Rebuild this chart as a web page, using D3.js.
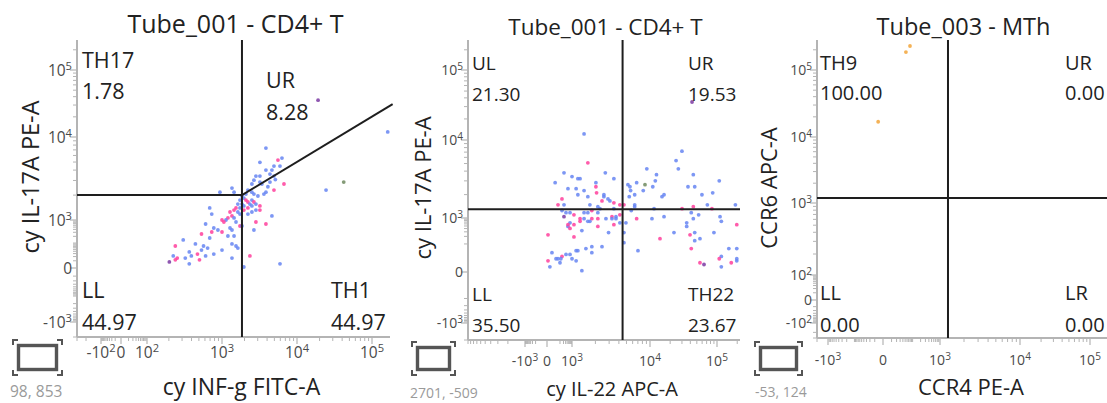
<!DOCTYPE html>
<html>
<head>
<meta charset="utf-8">
<script src="https://cdn.jsdelivr.net/npm/d3@7"></script>
<style>
  body { margin: 0; background: #fff; }
  svg { display: block; font-family: "Open Sans", sans-serif; }
</style>
</head>
<body>
<div id="chart"></div>
<script>
'use strict'

////////////////////////////////////
//////////////// data //////////////
////////////////////////////////////

const panelTitles = ['Tube_001 - CD4+ T', 'Tube_001 - CD4+ T', 'Tube_003 - MTh']
const xTitles = ['cy INF-g FITC-A', 'cy IL-22 APC-A', 'CCR4 PE-A']
const yTitles = ['cy IL-17A PE-A', 'cy IL-17A PE-A', 'CCR6 APC-A']
const cursorReadouts = ['98, 853', '2701, -509', '-53, 124']

// axis ticks (value, label with ^ for exponent)
const p1XTicks = [-100, 0, 100, 1e3, 1e4, 1e5]
const p1XTickLabels = ['-10^2', '0', '10^2', '10^3', '10^4', '10^5']
const p1YTicks = [-1e3, 0, 1e3, 1e4, 1e5]
const p1YTickLabels = ['-10^3', '0', '10^3', '10^4', '10^5']
const p2XTicks = [-1e3, 0, 1e3, 1e4, 1e5]
const p2XTickLabels = ['-10^3', '0', '10^3', '10^4', '10^5']
const p2YTicks = [-1e3, 0, 1e3, 1e4, 1e5]
const p2YTickLabels = ['-10^3', '0', '10^3', '10^4', '10^5']
const p3XTicks = [-1e3, 0, 1e3, 1e4, 1e5]
const p3XTickLabels = ['-10^3', '0', '10^3', '10^4', '10^5']
const p3YTicks = [-100, 0, 100, 1e3, 1e4, 1e5]
const p3YTickLabels = ['-10^2', '0', '10^2', '10^3', '10^4', '10^5']

// quadrant gates: names + percentages (UL, UR, LL, LR)
const p1GateNames = ['TH17', 'UR', 'LL', 'TH1']
const p1GatePct = ['1.78', '8.28', '44.97', '44.97']
const p2GateNames = ['UL', 'UR', 'LL', 'TH22']
const p2GatePct = ['21.30', '19.53', '35.50', '23.67']
const p3GateNames = ['TH9', 'UR', 'LL', 'LR']
const p3GatePct = ['100.00', '0.00', '0.00', '0.00']

// gate cross points (x, y) and the tilted arm of panel 1
const p1GateCross = [1850, 2000]
const p1GateDiagEnd = [190000, 31000]
const p2GateCross = [4460, 1300]
const p3GateCross = [1260, 1190]

// events [x, y, population]  b blue, p pink, v purple, o olive, y orange
const p1Events = [
  [3860,7360,'b'],[5580,5280,'p'],[6310,5580,'b'],[3210,4960,'b'],[4940,4470,'b'],[5940,4470,'b'],
  [3860,4000,'b'],[4640,4000,'b'],[4370,3580,'b'],[2840,3390,'b'],[3210,3390,'b'],[4940,3390,'b'],
  [5150,3080,'b'],[2670,3030,'b'],[2510,2720,'b'],[3210,2870,'b'],[3410,2720,'b'],[6710,2720,'p'],
  [4370,2870,'b'],[4100,2520,'b'],[4940,2300,'p'],[24400,2300,'b'],[42000,2870,'o'],[940,2170,'b'],
  [1360,2430,'b'],[1450,2170,'b'],[2220,2300,'b'],[2090,2060,'b'],[2510,2170,'b'],[2670,2060,'b'],
  [3860,2170,'b'],[3630,2060,'b'],[3020,1950,'b'],[1850,1950,'b'],[1960,1840,'b'],[1740,1740,'b'],
  [2090,1740,'p'],[2220,1650,'p'],[2510,1740,'b'],[2670,1650,'p'],[2360,1560,'b'],[2840,1560,'b'],
  [1850,1560,'b'],[1630,1560,'b'],[1960,1480,'b'],[1540,1400,'p'],[1740,1400,'b'],[2220,1400,'p'],
  [2510,1480,'b'],[3210,1480,'p'],[3210,1320,'p'],[2840,1320,'b'],[1960,1320,'p'],[1450,1320,'p'],
  [1280,1250,'p'],[1630,1250,'b'],[1740,1180,'b'],[2220,1180,'b'],[2510,1250,'b'],[1360,1120,'p'],
  [1450,1060,'b'],[1200,1060,'p'],[1130,1000,'b'],[1000,1000,'p'],[1060,823,'p'],[1540,823,'b'],
  [1740,557,'p'],[1850,557,'b'],[2840,823,'p'],[3860,677,'p'],[4640,1120,'b'],[2670,376,'b'],
  [736,1180,'b'],[692,1400,'b'],[612,677,'b'],[782,458,'b'],[885,376,'b'],[1000,309,'p'],
  [1280,458,'b'],[1360,376,'b'],[541,253,'p'],[736,309,'p'],[692,169,'b'],[1200,207,'b'],
  [1450,207,'b'],[1360,91,'b'],[1540,73,'b'],[1630,58,'b'],[1000,46,'b'],[782,28,'b'],
  [575,73,'b'],[541,46,'b'],[650,58,'b'],[450,91,'b'],[311,138,'b'],[244,73,'p'],
  [374,37,'b'],[398,22,'b'],[479,28,'p'],[612,22,'b'],[509,12,'p'],[331,16,'b'],
  [259,16,'p'],[229,22,'b'],[244,12,'p'],[203,8,'v'],[374,5,'b'],[1360,16,'b'],
  [2360,22,'p'],[5940,5,'b'],[1960,1,'b'],[19100,35500,'v'],[163000,11900,'b']
]

const p2Events = [
  [30000,7200,'b'],[24500,5450,'b'],[26500,4280,'b'],[1600,5100,'p'],[220,3800,'b'],[1000,3400,'b'],
  [1190,3200,'b'],[1270,3200,'b'],[35,2840,'b'],[470,2380,'b'],[1130,2380,'b'],[1430,2250,'b'],
  [1190,1990,'b'],[1600,1880,'b'],[2030,2840,'b'],[2030,2520,'p'],[2070,2110,'p'],[2680,3800,'b'],
  [3450,3200,'b'],[2570,1990,'b'],[2570,1880,'b'],[2900,1760,'b'],[3070,1660,'b'],[2430,1660,'p'],
  [149,1760,'p'],[66,1480,'p'],[220,1480,'b'],[1700,1480,'b'],[2150,1400,'b'],[2290,1320,'b'],
  [3450,1570,'p'],[4120,1480,'p'],[4640,1480,'p'],[3450,1320,'b'],[149,1250,'b'],[323,1170,'b'],
  [690,1170,'b'],[1060,1100,'p'],[220,1040,'v'],[1430,1170,'b'],[1600,1170,'b'],[1800,1250,'p'],
  [2150,1170,'b'],[3260,1040,'p'],[3670,1040,'b'],[3670,940,'b'],[3260,940,'b'],[4120,1100,'p'],
  [2730,940,'b'],[2150,940,'p'],[1800,940,'p'],[1700,750,'b'],[1270,940,'p'],[1270,750,'p'],
  [1430,940,'b'],[1600,750,'b'],[690,660,'b'],[473,480,'b'],[690,405,'p'],[1060,560,'p'],
  [473,560,'p'],[1340,335,'b'],[2150,480,'p'],[3450,560,'p'],[4120,660,'b'],[4920,660,'b'],
  [4640,280,'b'],[4640,113,'b'],[2,230,'p'],[1060,190,'p'],[2950,280,'b'],[2430,77,'b'],
  [1800,77,'b'],[1510,64,'b'],[1800,42,'b'],[1190,52,'b'],[1130,52,'b'],[690,35,'b'],
  [323,35,'b'],[149,28,'p'],[120,21,'b'],[66,21,'b'],[43,21,'b'],[15,42,'b'],
  [2,16,'p'],[7,5.5,'b'],[1000,21,'b'],[1130,16,'b'],[100,12,'b'],[1340,1.2,'b'],
  [9100,4280,'b'],[12500,3600,'b'],[12000,3000,'b'],[11000,2520,'b'],[8630,2680,'o'],[6750,2840,'b'],
  [5220,2680,'b'],[5540,2520,'b'],[5650,2250,'b'],[6370,1990,'b'],[5430,1880,'b'],[8200,2250,'b'],
  [16200,1990,'b'],[15100,1880,'b'],[6370,1480,'b'],[6370,1400,'b'],[5760,1250,'b'],[11500,1320,'b'],
  [6750,940,'p'],[10700,940,'b'],[16200,1040,'b'],[30100,1320,'p'],[44300,3600,'b'],[36900,2520,'b'],
  [46500,2520,'b'],[59600,1990,'b'],[86300,2110,'b'],[71800,1480,'b'],[108000,3000,'b'],[44300,1400,'p'],
  [84000,1320,'p'],[41300,1170,'b'],[53200,1100,'b'],[44300,940,'b'],[35300,660,'b'],[35300,480,'b'],
  [22800,280,'b'],[14100,162,'p'],[39600,230,'p'],[46500,280,'b'],[55700,162,'b'],[46500,135,'b'],
  [41300,64,'p'],[90000,280,'b'],[111000,1040,'b'],[116000,750,'b'],[188000,1480,'b'],[197000,560,'p'],
  [7020,52,'b'],[150000,64,'b'],[197000,64,'b'],[116000,28,'b'],[108000,21,'p'],[197000,21,'b'],
  [197000,16,'b'],[55700,12,'p'],[64000,9,'v'],[163000,12,'p'],[116000,5.5,'b'],[1430,12200,'b'],
  [42400,34900,'v']
]

const p3Events = [[54,185000,'y'],[79,228000,'y'],[-5,16900,'y']]

////////////////////////////////////
//////////////// layout ////////////
////////////////////////////////////

const W = 1107, H = 403

const colors = { b: '#6685f2', p: '#ff3f9c', v: '#7b3aa3', o: '#6f8a5f', y: '#f2a53a' }

// scale calibration (value -> pixel anchors) and text placement, per panel
const layout = [
  {
    left: 77, right: 390, top: 40, bottom: 337,
    xDom: [-300, -100, 0, 100, 1e3, 1e4, 1e5, 175000], xRng: [77, 101, 121, 147, 222, 297, 372, 390],
    yDom: [-2000, -1e3, 0, 1e3, 1e4, 1e5, 280000], yRng: [337, 322, 268, 220, 137, 70, 40],
    minMinor: 10,
    title: [235.5, 33, 25], xTitle: [241.5, 395, 23], yTitle: [39, 177, 23.5],
    tickSize: 15.5, xTickBase: 358,
    quad: [[82, 68, 99], [266, 88, 120], [82, 298, 330], [331, 298, 330]], quadSize: 21.5,
    icon: [13, 340, 62, 375], readout: [10, 397, 15.5]
  },
  {
    left: 468, right: 740, top: 40, bottom: 340,
    xDom: [-1e4, -1e3, 0, 1e3, 1e4, 1e5, 220000], xRng: [468, 525, 547, 572, 650, 717, 740],
    yDom: [-2000, -1e3, 0, 1e3, 1e4, 1e5, 280000], yRng: [340, 323, 272, 218, 140, 70, 40],
    minMinor: 100,
    title: [605.5, 35, 22.5], xTitle: [612, 396, 20], yTitle: [431, 188, 22],
    tickSize: 14, xTickBase: 366,
    quad: [[472, 70, 101], [688, 70, 101], [472, 301, 332], [688, 301, 332]], quadSize: 19,
    icon: [412, 342, 455, 375], readout: [410, 398, 14]
  },
  {
    left: 817, right: 1107, top: 40, bottom: 338,
    xDom: [-2000, -1e3, 0, 1e3, 1e4, 1e5, 175000], xRng: [817, 828, 883, 940, 1020, 1090, 1107],
    yDom: [-300, -100, 0, 100, 1e3, 1e4, 1e5, 280000], yRng: [338, 323, 300, 275, 203, 137, 70, 40],
    minMinor: 10,
    title: [963.5, 35, 23.5], xTitle: [971, 395, 22], yTitle: [777, 188, 22],
    tickSize: 14, xTickBase: 365,
    quad: [[820, 70, 100], [1065, 70, 100], [820, 300, 332], [1065, 300, 332]], quadSize: 20,
    icon: [755, 342, 802, 375], readout: [755, 397, 14]
  }
]

const panels = [
  { xTicks: p1XTicks, xLabels: p1XTickLabels, yTicks: p1YTicks, yLabels: p1YTickLabels,
    names: p1GateNames, pct: p1GatePct, cross: p1GateCross, diag: p1GateDiagEnd, events: p1Events },
  { xTicks: p2XTicks, xLabels: p2XTickLabels, yTicks: p2YTicks, yLabels: p2YTickLabels,
    names: p2GateNames, pct: p2GatePct, cross: p2GateCross, diag: null, events: p2Events },
  { xTicks: p3XTicks, xLabels: p3XTickLabels, yTicks: p3YTicks, yLabels: p3YTickLabels,
    names: p3GateNames, pct: p3GatePct, cross: p3GateCross, diag: null, events: p3Events }
]

////////////////////////////////////
//////////////// draw //////////////
////////////////////////////////////

const svg = d3.select('#chart').append('svg')
  .attr('width', W).attr('height', H)

// minor ticks: m * 10^k on both sides of zero, inside the axis domain
function minorTicks(dom, majors, minAbs) {
  const lo = d3.min(dom), hi = d3.max(dom), out = []
  for (let k = 1; k <= 5; k++) {
    for (let m = 1; m <= 9; m++) {
      const v = m * Math.pow(10, k)
      if (v < minAbs) continue
      if (v <= hi && !majors.includes(v)) out.push(v)
      if (-v >= lo && !majors.includes(-v)) out.push(-v)
    }
  }
  return out
}

function writeLabel(text, lbl) {
  const parts = lbl.split('^')
  text.append('tspan').text(parts[0])
  if (parts[1]) text.append('tspan').attr('dy', '-0.5em').attr('font-size', '0.72em').text(parts[1])
}

panels.forEach((pn, i) => {
  const L = layout[i]
  const x = d3.scaleSymlog().constant(10).domain(L.xDom).range(L.xRng)
  const y = d3.scaleSymlog().constant(10).domain(L.yDom).range(L.yRng)
  const g = svg.append('g')

  // title
  g.append('text')
    .attr('x', L.title[0]).attr('y', L.title[1])
    .attr('text-anchor', 'middle').attr('font-size', L.title[2]).attr('fill', '#222')
    .text(panelTitles[i])

  // axes lines
  const axis = g.append('g').attr('stroke', '#b4b4b4')
  axis.append('line').attr('x1', L.left).attr('x2', L.left).attr('y1', L.top).attr('y2', L.bottom).attr('stroke-width', 2)
  axis.append('line').attr('x1', L.left).attr('x2', L.right).attr('y1', L.bottom).attr('y2', L.bottom).attr('stroke-width', 2)

  // ticks
  const xMinor = minorTicks(L.xDom, pn.xTicks, L.minMinor)
  const yMinor = minorTicks(L.yDom, pn.yTicks, L.minMinor)
  axis.selectAll('.xminor').data(xMinor).join('line')
    .attr('x1', d => x(d)).attr('x2', d => x(d)).attr('y1', L.bottom).attr('y2', L.bottom + 4).attr('stroke-width', 1)
  axis.selectAll('.xmajor').data(pn.xTicks).join('line')
    .attr('x1', d => x(d)).attr('x2', d => x(d)).attr('y1', L.bottom).attr('y2', L.bottom + 7).attr('stroke-width', 1.2)
  axis.selectAll('.yminor').data(yMinor).join('line')
    .attr('y1', d => y(d)).attr('y2', d => y(d)).attr('x1', L.left).attr('x2', L.left - 4).attr('stroke-width', 1)
  axis.selectAll('.ymajor').data(pn.yTicks).join('line')
    .attr('y1', d => y(d)).attr('y2', d => y(d)).attr('x1', L.left).attr('x2', L.left - 7).attr('stroke-width', 1.2)

  // tick labels
  pn.xTicks.forEach((v, j) => {
    const t = g.append('text')
      .attr('x', x(v)).attr('y', L.xTickBase)
      .attr('text-anchor', 'middle').attr('font-size', L.tickSize).attr('fill', '#4a4a4a')
    writeLabel(t, pn.xLabels[j])
  })
  pn.yTicks.forEach((v, j) => {
    const t = g.append('text')
      .attr('x', L.left - 5).attr('y', y(v)).attr('dy', '0.36em')
      .attr('text-anchor', 'end').attr('font-size', L.tickSize).attr('fill', '#4a4a4a')
    writeLabel(t, pn.yLabels[j])
  })

  // axis titles
  g.append('text')
    .attr('x', L.xTitle[0]).attr('y', L.xTitle[1])
    .attr('text-anchor', 'middle').attr('font-size', L.xTitle[2]).attr('fill', '#222')
    .text(xTitles[i])
  g.append('text')
    .attr('transform', `translate(${L.yTitle[0]},${L.yTitle[1]}) rotate(-90)`)
    .attr('text-anchor', 'middle').attr('font-size', L.yTitle[2]).attr('fill', '#222')
    .text(yTitles[i])

  // events
  g.append('g').selectAll('circle').data(pn.events).join('circle')
    .attr('cx', d => x(d[0])).attr('cy', d => y(d[1])).attr('r', 1.9)
    .attr('fill', d => colors[d[2]]).attr('fill-opacity', 0.85)

  // gates
  const gate = g.append('g').attr('stroke', '#1e1e1e').attr('stroke-width', 2).attr('fill', 'none')
  const cx = x(pn.cross[0]), cy = y(pn.cross[1])
  gate.append('line').attr('x1', cx).attr('x2', cx).attr('y1', L.top).attr('y2', L.bottom)
  if (pn.diag) {
    gate.append('line').attr('x1', L.left).attr('x2', cx).attr('y1', cy).attr('y2', cy)
    gate.append('line').attr('x1', cx).attr('y1', cy).attr('x2', x(pn.diag[0])).attr('y2', y(pn.diag[1]))
  } else {
    gate.append('line').attr('x1', L.left).attr('x2', L.right).attr('y1', cy).attr('y2', cy)
  }

  // quadrant names and percentages
  pn.names.forEach((nm, j) => {
    const q = L.quad[j]
    g.append('text').attr('x', q[0]).attr('y', q[1]).attr('font-size', L.quadSize).attr('fill', '#222').text(nm)
    g.append('text').attr('x', q[0]).attr('y', q[2]).attr('font-size', L.quadSize).attr('fill', '#222').text(pn.pct[j])
  })

  // cursor icon + readout
  const [ix0, iy0, ix1, iy1] = L.icon
  const ic = g.append('g').attr('fill', 'none').attr('stroke', '#555')
  ic.append('rect').attr('x', ix0 + 5.5).attr('y', iy0 + 5.5).attr('width', ix1 - ix0 - 11).attr('height', iy1 - iy0 - 11)
    .attr('stroke-width', 3.4)
  const c = 5
  const corners = [
    `M${ix0},${iy0 + c}V${iy0}H${ix0 + c}`, `M${ix1 - c},${iy0}H${ix1}V${iy0 + c}`,
    `M${ix0},${iy1 - c}V${iy1}H${ix0 + c}`, `M${ix1 - c},${iy1}H${ix1}V${iy1 - c}`
  ]
  ic.selectAll('path').data(corners).join('path').attr('d', d => d).attr('stroke-width', 2)
  g.append('text').attr('x', L.readout[0]).attr('y', L.readout[1])
    .attr('font-size', L.readout[2]).attr('fill', '#9a9a9a').text(cursorReadouts[i])
})
</script>
</body>
</html>
